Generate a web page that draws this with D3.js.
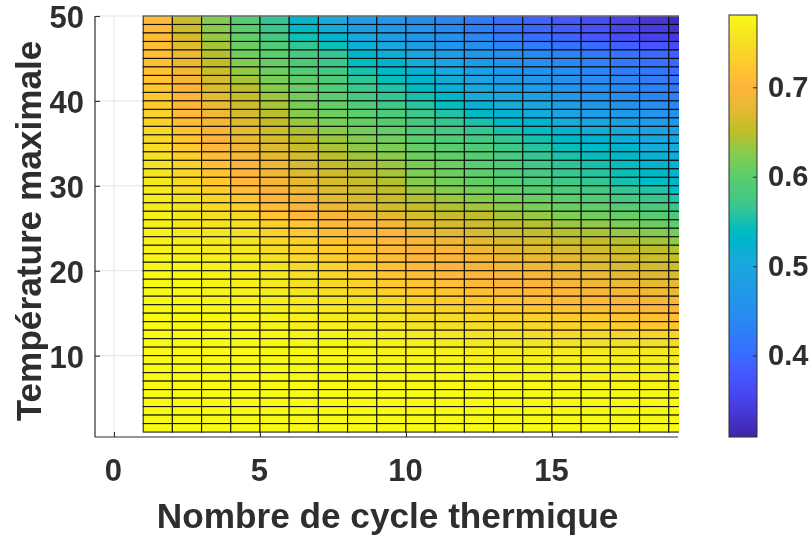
<!DOCTYPE html>
<html><head><meta charset="utf-8">
<script src="https://cdn.jsdelivr.net/npm/d3@7"></script>
<style>
html,body{margin:0;padding:0;background:#fff;width:810px;height:536px;overflow:hidden}
svg{display:block;filter:blur(0.45px)}
text{font-family:"Liberation Sans",Arial,sans-serif;font-weight:700;fill:#2e2e2e}
</style></head><body>
<svg id="chart" width="810" height="536"></svg>
<script>
const cycles = d3.range(1, 20);
const xTicks = [0, 5, 10, 15];
const yTicks = [10, 20, 30, 40, 50];
const barTicks = [0.4, 0.5, 0.6, 0.7];
const xTitle = "Nombre de cycle thermique";
const yTitle = "Température maximale";
const rowTemps = d3.range(49, 0, -1);
const cellValues = [
[.708,.655,.625,.595,.565,.530,.505,.480,.465,.450,.435,.420,.405,.390,.380,.365,.350,.335,.320],
[.709,.660,.628,.600,.570,.537,.512,.487,.471,.456,.441,.426,.411,.396,.385,.371,.356,.341,.327],
[.710,.666,.633,.605,.578,.548,.524,.499,.482,.467,.452,.437,.422,.407,.395,.381,.367,.352,.339],
[.711,.673,.639,.610,.589,.564,.546,.515,.498,.481,.466,.451,.436,.423,.412,.400,.388,.376,.362],
[.712,.680,.645,.615,.600,.580,.565,.530,.515,.495,.480,.465,.450,.440,.430,.420,.410,.400,.385],
[.714,.684,.651,.623,.606,.587,.572,.541,.524,.505,.490,.475,.460,.449,.439,.429,.419,.409,.394],
[.717,.689,.657,.631,.612,.594,.579,.552,.534,.516,.501,.484,.469,.458,.448,.437,.427,.417,.403],
[.719,.693,.663,.639,.619,.601,.586,.562,.544,.527,.512,.493,.478,.467,.456,.445,.435,.425,.411],
[.722,.697,.669,.647,.627,.608,.593,.571,.555,.539,.521,.499,.486,.476,.463,.450,.440,.430,.418],
[.725,.700,.675,.655,.635,.615,.600,.580,.565,.550,.530,.505,.495,.485,.470,.455,.445,.435,.425],
[.729,.704,.680,.660,.640,.619,.605,.589,.575,.560,.542,.520,.508,.497,.481,.467,.458,.449,.439],
[.733,.708,.685,.666,.647,.626,.612,.598,.585,.570,.555,.535,.521,.510,.494,.480,.472,.463,.453],
[.737,.712,.690,.671,.654,.634,.620,.607,.595,.580,.567,.552,.536,.524,.508,.495,.486,.477,.467],
[.741,.716,.695,.676,.660,.642,.628,.616,.605,.590,.579,.566,.551,.537,.521,.510,.500,.489,.481],
[.745,.720,.700,.680,.665,.650,.635,.625,.615,.600,.590,.580,.565,.550,.535,.525,.515,.500,.495],
[.748,.725,.705,.686,.671,.656,.641,.631,.621,.606,.597,.587,.572,.558,.544,.535,.525,.511,.504],
[.751,.730,.710,.691,.676,.661,.647,.637,.627,.612,.603,.593,.580,.566,.553,.543,.533,.519,.512],
[.754,.735,.715,.696,.681,.666,.653,.644,.634,.618,.609,.598,.587,.574,.561,.550,.540,.527,.518],
[.757,.740,.720,.701,.686,.671,.659,.650,.640,.622,.612,.602,.591,.580,.568,.558,.546,.534,.522],
[.760,.745,.725,.705,.690,.675,.665,.655,.645,.625,.615,.605,.595,.585,.575,.565,.550,.540,.525],
[.762,.749,.731,.712,.695,.680,.670,.660,.650,.634,.625,.614,.605,.596,.587,.578,.565,.555,.540],
[.764,.752,.737,.722,.701,.687,.675,.665,.654,.643,.634,.626,.617,.609,.600,.590,.578,.570,.555],
[.765,.755,.743,.733,.710,.696,.682,.675,.662,.652,.643,.638,.628,.620,.610,.603,.593,.583,.570],
[.767,.758,.749,.741,.720,.708,.692,.685,.675,.664,.654,.649,.639,.633,.623,.616,.607,.597,.585],
[.768,.760,.755,.748,.730,.720,.705,.700,.690,.675,.665,.660,.650,.645,.635,.630,.620,.610,.600],
[.770,.763,.758,.752,.736,.727,.714,.707,.698,.684,.674,.668,.659,.654,.646,.641,.633,.625,.616],
[.771,.766,.761,.756,.741,.733,.721,.713,.705,.691,.683,.676,.668,.664,.657,.652,.645,.638,.630],
[.773,.769,.764,.760,.747,.738,.727,.719,.710,.697,.691,.683,.676,.672,.667,.662,.656,.650,.644],
[.774,.772,.767,.763,.752,.742,.731,.722,.713,.701,.696,.689,.683,.679,.674,.669,.664,.658,.652],
[.775,.775,.770,.765,.757,.745,.735,.725,.715,.705,.700,.695,.690,.685,.680,.675,.670,.665,.660],
[.777,.776,.772,.767,.760,.749,.739,.730,.721,.711,.706,.701,.696,.691,.686,.681,.676,.671,.667],
[.778,.777,.773,.769,.763,.753,.744,.735,.727,.718,.712,.707,.702,.697,.692,.687,.682,.678,.674],
[.778,.777,.774,.771,.765,.758,.749,.741,.734,.725,.719,.714,.708,.703,.698,.693,.689,.685,.681],
[.779,.778,.775,.772,.768,.762,.755,.749,.743,.733,.728,.723,.717,.712,.707,.703,.698,.695,.690],
[.780,.778,.776,.773,.770,.766,.762,.757,.752,.740,.737,.733,.730,.725,.720,.715,.710,.705,.700],
[.780,.779,.777,.775,.772,.769,.765,.761,.757,.747,.744,.741,.737,.733,.728,.724,.720,.715,.711],
[.780,.779,.778,.776,.774,.771,.769,.765,.761,.754,.751,.748,.745,.741,.737,.733,.729,.725,.721],
[.780,.780,.779,.778,.776,.774,.772,.769,.765,.761,.758,.755,.752,.748,.745,.742,.738,.735,.732],
[.780,.780,.780,.779,.777,.776,.774,.772,.769,.767,.765,.762,.759,.757,.755,.753,.751,.749,.746],
[.780,.780,.780,.780,.778,.778,.775,.775,.772,.772,.770,.768,.766,.765,.764,.763,.762,.761,.760],
[.780,.780,.780,.780,.779,.778,.777,.776,.774,.774,.773,.771,.770,.769,.768,.767,.766,.765,.764],
[.780,.780,.780,.780,.780,.779,.778,.777,.776,.776,.775,.774,.773,.772,.771,.770,.769,.768,.767],
[.780,.780,.780,.780,.780,.780,.779,.779,.778,.778,.777,.776,.775,.775,.774,.773,.772,.771,.770],
[.780,.780,.780,.780,.780,.780,.780,.780,.779,.779,.778,.778,.777,.777,.776,.775,.775,.774,.773],
[.780,.780,.780,.780,.780,.780,.780,.780,.780,.780,.780,.779,.779,.778,.778,.777,.777,.776,.775],
[.780,.780,.780,.780,.780,.780,.780,.780,.780,.780,.780,.780,.779,.779,.778,.778,.778,.777,.777],
[.780,.780,.780,.780,.780,.780,.780,.780,.780,.780,.780,.780,.780,.780,.779,.779,.779,.778,.778],
[.780,.780,.780,.780,.780,.780,.780,.780,.780,.780,.780,.780,.780,.780,.780,.780,.779,.779,.779],
[.780,.780,.780,.780,.780,.780,.780,.780,.780,.780,.780,.780,.780,.780,.780,.780,.780,.780,.780]
];
const colorStops = [0,.07,.143,.2,.286,.36,.415,.46,.49,.538,.57,.615,.67,.72,.786,.83,.88,.94,1];
const colorRamp = ["#3e26a8","#483ce1","#4655ff","#376eff","#288cf0","#1e9ce6","#19aadc","#00b4cd","#00bcc3","#32c596","#46c882","#5acd6e","#82cd50","#bebe28","#ebb932","#ffb43c","#ffc82d","#f5e123","#f8fa14"];

const svg = d3.select("#chart");
const dark = "#2e2e2e";
const plot = {l:95, r:679, t:16, b:437};
const bar = {l:729, r:757, t:15, b:437};
const vMin = 0.309, vMax = 0.7808;

const x = d3.scaleLinear().domain([-0.65, 19.35]).range([plot.l, plot.r]);
const y = d3.scaleLinear().domain([0.42, 50]).range([plot.b, plot.t]);
const frac = d3.scaleLinear().domain([vMin, vMax]).range([0, 1]).clamp(true);
const ramp = d3.scaleLinear().domain(colorStops).range(colorRamp).interpolate(d3.interpolateRgb);
const color = v => ramp(frac(v));

svg.append("defs").append("clipPath").attr("id","plotClip").append("rect")
  .attr("x",plot.l).attr("y",plot.t-1).attr("width",plot.r-plot.l).attr("height",plot.b-plot.t+1);

// grid
const grid = svg.append("g").attr("stroke","#e4e4e4").attr("stroke-width",1);
yTicks.forEach(t => grid.append("line").attr("x1",plot.l).attr("x2",plot.r).attr("y1",y(t)).attr("y2",y(t)));
xTicks.forEach(t => grid.append("line").attr("y1",plot.t).attr("y2",plot.b).attr("x1",x(t)).attr("x2",x(t)));

// cells
const cells = rowTemps.flatMap((t,i) => cycles.map((c,j) => ({c, t, v: cellValues[i][j]})));
svg.append("g").attr("clip-path","url(#plotClip)").selectAll("rect").data(cells).join("rect")
  .attr("x", d => x(d.c)).attr("width", d => x(d.c+1)-x(d.c))
  .attr("y", d => y(d.t+1)).attr("height", d => y(d.t)-y(d.t+1))
  .attr("fill", d => color(d.v))
  .attr("stroke","#000").attr("stroke-width",1.1).attr("stroke-opacity",0.85);
svg.append("line").attr("x1",x(1)).attr("x2",plot.r).attr("y1",plot.t).attr("y2",plot.t)
  .attr("stroke","#9a9a9a").attr("stroke-width",1.2);

// axes
const xAxis = d3.axisBottom(x).tickValues(xTicks).tickSize(-5).tickPadding(22);
const yAxis = d3.axisLeft(y).tickValues(yTicks).tickSize(-5).tickPadding(11);
const gx = svg.append("g").attr("transform",`translate(0,${plot.b})`).call(xAxis);
const gy = svg.append("g").attr("transform",`translate(${plot.l},0)`).call(yAxis);
[gx,gy].forEach(g => {
  g.selectAll("path.domain").attr("stroke",dark).attr("stroke-width",1.2);
  g.selectAll(".tick line").attr("stroke",dark).attr("stroke-width",1.1);
  g.selectAll("text").attr("font-size",31).attr("font-family",null).attr("fill",dark);
});
gx.selectAll("text").attr("dx",-1);
gy.selectAll("text").attr("transform","translate(0,2)");
gx.select("path.domain").attr("d",`M${plot.l},0H${plot.r-1}`);
gy.select("path.domain").attr("d",`M0,${plot.t}V${plot.b}`);

svg.append("text").attr("x",387.5).attr("y",528).attr("text-anchor","middle")
  .attr("font-size",35.2).text(xTitle);
svg.append("text").attr("transform","translate(41,231) rotate(-90)").attr("text-anchor","middle")
  .attr("font-size",35.2).text(yTitle);

// colour bar
const grad = svg.select("defs").append("linearGradient").attr("id","barGrad")
  .attr("x1",0).attr("y1",1).attr("x2",0).attr("y2",0);
colorStops.forEach((s,i) => grad.append("stop").attr("offset",s).attr("stop-color",colorRamp[i]));
const barY = d3.scaleLinear().domain([vMin,vMax]).range([bar.b,bar.t]);
svg.append("rect").attr("x",bar.l).attr("y",bar.t).attr("width",bar.r-bar.l).attr("height",bar.b-bar.t)
  .attr("fill","url(#barGrad)").attr("stroke",dark).attr("stroke-width",1);
const gb = svg.append("g").attr("transform",`translate(${bar.r},0)`)
  .call(d3.axisRight(barY).tickValues(barTicks).tickFormat(d3.format(".1f")).tickSize(-4).tickPadding(11));
gb.select("path.domain").remove();
gb.selectAll(".tick line").attr("stroke",dark).attr("stroke-width",1);
gb.selectAll("text").attr("font-size",29).attr("font-family",null).attr("fill",dark);
</script></body></html>
